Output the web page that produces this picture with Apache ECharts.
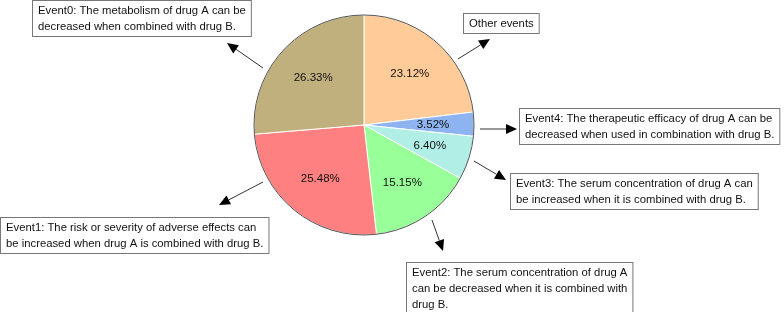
<!DOCTYPE html>
<html>
<head>
<meta charset="utf-8">
<script src="https://cdn.jsdelivr.net/npm/echarts@6/dist/echarts.min.js"></script>
<style>
html, body { margin: 0; padding: 0; background: #fff; }
#main { width: 784px; height: 312px; }
</style>
</head>
<body>
<div id="main"></div>
<script>
// slices, clockwise from 12 o'clock
var names = ['Other events', 'Event4', 'Event3', 'Event2', 'Event1', 'Event0'];
var shares = [23.12, 3.52, 6.40, 15.15, 25.48, 26.33];
var colors = ['#FFCC99', '#8DB4F0', '#B0EEE6', '#99FF99', '#FF8080', '#C0B07E'];

var notes = [
    'Other events',
    'Event4: The therapeutic efficacy of drug A can be\ndecreased when used in combination with drug B.',
    'Event3: The serum concentration of drug A can\nbe increased when it is combined with drug B.',
    'Event2: The serum concentration of drug A\ncan be decreased when it is combined with\ndrug B.',
    'Event1: The risk or severity of adverse effects can\nbe increased when drug A is combined with drug B.',
    'Event0: The metabolism of drug A can be\ndecreased when combined with drug B.'
];
// box top-left and arrow [tail, tip] for each note
var notePos = [[463, 13], [519, 108], [510, 173], [406, 262], [0, 217], [32, 0]];
var arrows = [
    [[458, 59], [490, 39]],
    [[480, 129], [517, 129]],
    [[474, 161], [506, 180]],
    [[432, 220], [443, 251]],
    [[263, 182], [219, 205]],
    [[263, 68], [227, 43]]
];
var FONT = '"Liberation Sans", Arial, sans-serif';

var pieData = [], labelData = [];
for (var i = 0; i < names.length; i++) {
    pieData.push({ name: names[i], value: shares[i], itemStyle: { color: colors[i] } });
    labelData.push({ name: names[i], value: shares[i] });
}

var graphics = [];
for (var k = 0; k < notes.length; k++) {
    graphics.push({
        type: 'text',
        left: notePos[k][0],
        top: notePos[k][1],
        z: 10,
        style: {
            text: notes[k],
            font: '11.3px ' + FONT,
            fill: '#111',
            lineHeight: 16,
            backgroundColor: '#fff',
            borderColor: '#777',
            borderWidth: 1,
            padding: [2, 5, 1, 5]
        }
    });
    var a = arrows[k][0], b = arrows[k][1];
    var dx = b[0] - a[0], dy = b[1] - a[1];
    var len = Math.sqrt(dx * dx + dy * dy);
    var ux = dx / len, uy = dy / len;
    var hl = 11, hw = 5;
    var bx = b[0] - ux * hl, by = b[1] - uy * hl;
    graphics.push({
        type: 'line', z: 10,
        shape: { x1: a[0], y1: a[1], x2: bx, y2: by },
        style: { stroke: '#333', lineWidth: 1 }
    });
    graphics.push({
        type: 'polygon', z: 10,
        shape: { points: [b, [bx - uy * hw, by + ux * hw], [bx + uy * hw, by - ux * hw]] },
        style: { fill: '#000' }
    });
}

var myChart = echarts.init(document.getElementById('main'));
var option = {
    animation: false,
    backgroundColor: '#fff',
    series: [
        {
            type: 'pie',
            center: [364, 125],
            radius: [0, 110],
            startAngle: 90,
            clockwise: true,
            silent: true,
            data: pieData,
            itemStyle: { borderColor: '#fff', borderWidth: 1 },
            label: { show: false },
            labelLine: { show: false }
        },
        {
            // carries the percentage labels a bit further out than the default
            type: 'pie',
            center: [364, 125],
            radius: [22, 110],
            startAngle: 90,
            silent: true,
            data: labelData,
            itemStyle: { color: 'rgba(0,0,0,0)', borderWidth: 0 },
            label: {
                show: true,
                position: 'inside',
                formatter: function (p) { return p.value.toFixed(2) + '%'; },
                fontFamily: FONT,
                fontSize: 11.5,
                color: '#111'
            },
            labelLine: { show: false }
        },
        {
            // outer rim
            type: 'pie',
            center: [364, 125],
            radius: [0, 110],
            silent: true,
            data: [1],
            itemStyle: { color: 'rgba(0,0,0,0)', borderColor: '#555', borderWidth: 1 },
            label: { show: false },
            labelLine: { show: false }
        }
    ],
    graphic: graphics
};
myChart.setOption(option);
</script>
</body>
</html>
